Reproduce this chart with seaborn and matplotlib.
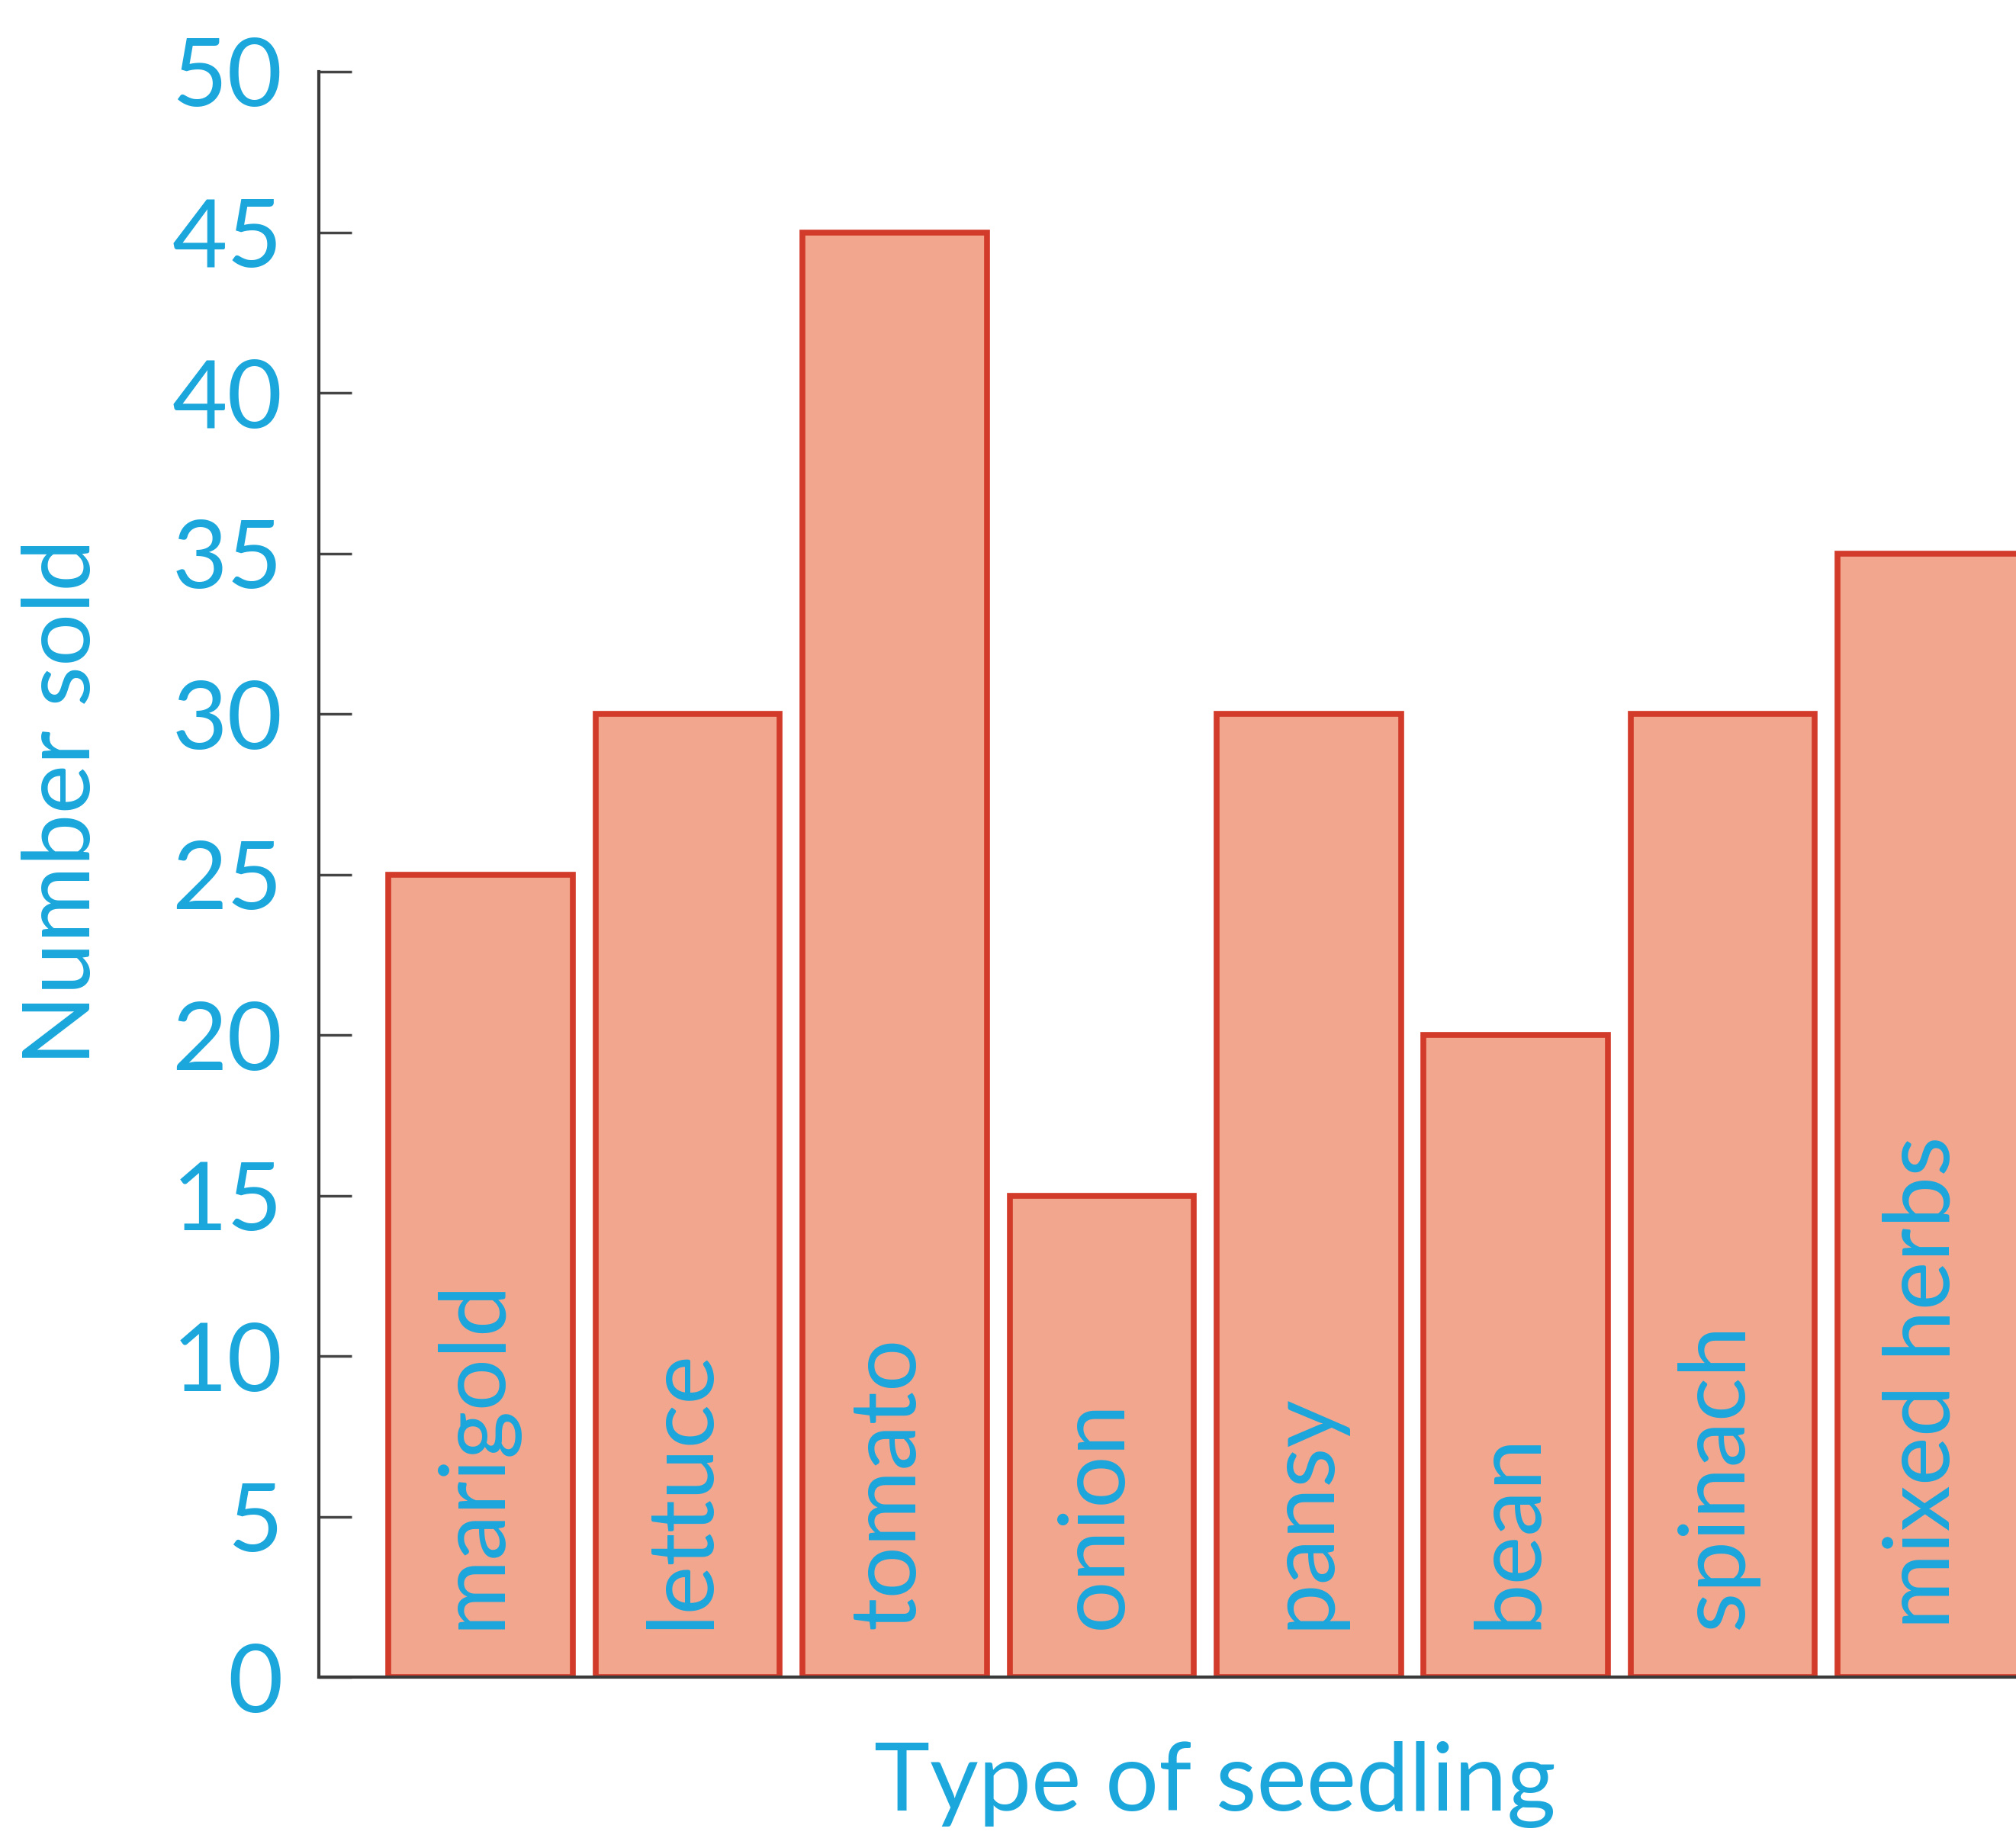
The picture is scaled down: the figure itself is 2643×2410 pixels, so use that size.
import matplotlib
matplotlib.use("Agg")
import matplotlib.pyplot as plt
import seaborn as sns

seedlings = ["marigold", "lettuce", "tomato", "onion", "pansy", "bean", "spinach", "mixed herbs"]
number_sold = [25, 30, 45, 15, 30, 20, 30, 35]
y_ticks = [0, 5, 10, 15, 20, 25, 30, 35, 40, 45, 50]

blue = "#1ba7dc"
fill = "#f2a68e"
edge = "#d23a2a"

sns.set_style("white")
plt.rcParams["font.family"] = ["Lato", "DejaVu Sans"]

fig = plt.figure(figsize=(26.43, 24.10), dpi=100)
ax = fig.add_axes([0.158, 0.0875, 0.842, 0.8735])

sns.barplot(x=seedlings, y=number_sold, color=fill, edgecolor=edge,
            linewidth=5.5, width=0.89, saturation=1, ax=ax, zorder=1)

# names written up the bars
for i, name in enumerate(seedlings):
    ax.text(i - 0.03, 1.5, name, rotation=90, ha="center", va="bottom",
            color=blue, fontsize=87, zorder=3)

ax.set_xlim(-0.783, 7.416)
ax.set_ylim(0, 50)
ax.set_yticks(y_ticks)
ax.set_xticks([])
ax.tick_params(axis="y", left=True, direction="in", length=31, width=2.5,
               color="#444444", labelsize=90, labelcolor=blue, pad=34)

for side in ["top", "right"]:
    ax.spines[side].set_visible(False)
for side in ["left", "bottom"]:
    ax.spines[side].set_color("#3a3a3a")
    ax.spines[side].set_linewidth(3)
    ax.spines[side].set_zorder(4)

ax.set_ylabel("Number sold", fontsize=88, color=blue)
ax.yaxis.set_label_coords(-0.125, 0.545)
ax.set_xlabel("Type of seedling", fontsize=89, color=blue)
ax.xaxis.set_label_coords(0.528, -0.04)

fig.savefig("out.png", dpi=100)
